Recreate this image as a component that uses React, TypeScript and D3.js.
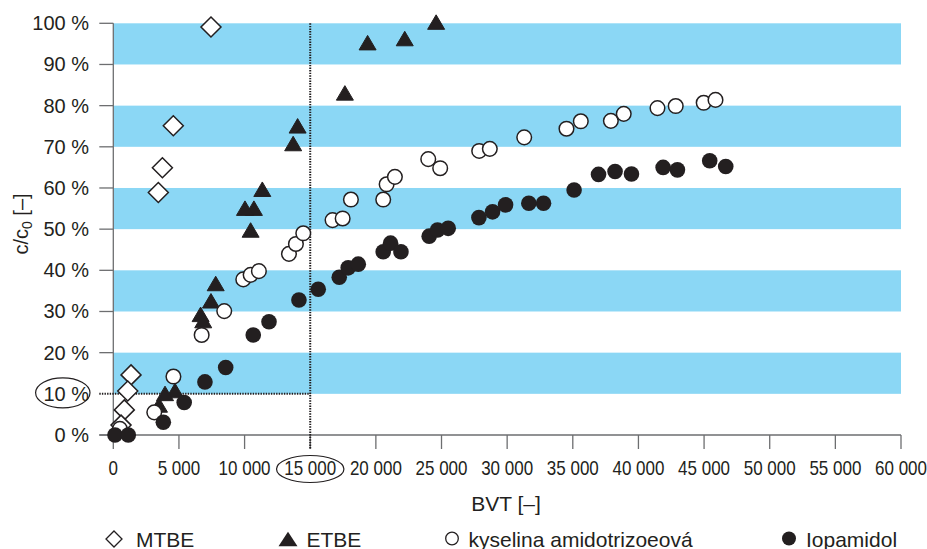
import React from "react";
import * as d3 from "d3";

const xTicks = [0, 5000, 10000, 15000, 20000, 25000, 30000, 35000, 40000, 45000, 50000, 55000, 60000];
const yTicks = [0, 10, 20, 30, 40, 50, 60, 70, 80, 90, 100];
const bands: [number, number][] = [[10, 20], [30, 40], [50, 60], [70, 80], [90, 100]];

const mtbe: [number, number][] = [
  [7440, 99.1], [4570, 75.1], [3740, 64.9], [3430, 58.9], [1350, 14.6], [1100, 10.7], [840, 6.1], [590, 2.4],
];
const etbe: [number, number][] = [
  [24590, 100.3], [22200, 96.3], [19370, 95.3], [17640, 83.1], [14040, 75.1], [13700, 70.8], [11350, 59.7],
  [10710, 55.1], [10030, 55.1], [10460, 49.8], [7800, 36.8], [7440, 32.6], [6650, 29.3], [6850, 27.8],
  [4700, 10.8], [3940, 10.1], [3480, 7.3],
];
const kyselina: [number, number][] = [
  [500, 1.5], [3120, 5.5], [4580, 14.2], [6730, 24.3], [8450, 30.1], [9900, 37.8], [10460, 38.9], [11090, 39.8],
  [13380, 44.0], [13910, 46.4], [14470, 49.0], [16700, 52.2], [17470, 52.6], [18100, 57.2], [20560, 57.2],
  [20820, 60.9], [21450, 62.7], [23990, 67.0], [24900, 64.8], [27870, 69.0], [28680, 69.5], [31300, 72.3],
  [34520, 74.4], [35610, 76.2], [37900, 76.3], [38880, 78.0], [41450, 79.4], [42840, 79.9], [44970, 80.7],
  [45870, 81.4],
];
const iopamidol: [number, number][] = [
  [130, 0], [1140, 0], [3810, 3.1], [5400, 7.9], [6980, 12.9], [8560, 16.4], [10660, 24.3], [11860, 27.5],
  [14140, 32.8], [15610, 35.4], [17210, 38.3], [17890, 40.6], [18660, 41.5], [20560, 44.5], [21120, 46.6],
  [21910, 44.5], [24060, 48.3], [24700, 49.8], [25510, 50.2], [27850, 52.8], [28890, 54.2], [29880, 55.9],
  [31650, 56.3], [32770, 56.3], [35100, 59.5], [36960, 63.3], [38220, 64.0], [39470, 63.4], [41880, 65.0],
  [42970, 64.4], [45430, 66.6], [46650, 65.2],
];
const legendLabels = ["MTBE", "ETBE", "kyselina amidotrizoeová", "Iopamidol"];
const markedX = 15000;
const markedY = 10;

const INK = "#231f20";
const BLUE = "#8bd7f5";
const FONT = "'Liberation Sans', Arial, Helvetica, sans-serif";

const fmtX = (v: number) => (v === 0 ? "0" : d3.format(",")(v).replace(/,/g, " "));

const diamond = (s: number) => `M0,${-s}L${s},0L0,${s}L${-s},0Z`;
const triangle = (w: number, h: number) => `M0,${-h / 2}L${w / 2},${h / 2}L${-w / 2},${h / 2}Z`;

export default function App() {
  const x = d3.scaleLinear().domain([0, 60000]).range([113.3, 901]);
  const y = d3.scaleLinear().domain([0, 100]).range([435, 23.3]);
  const x0 = x(0);
  const x1 = x(60000);

  return (
    <svg
      width={927}
      height={549}
      style={{ position: "absolute", left: 0, top: 0, background: "#fff" }}
      fontFamily={FONT}
    >
      {/* bands */}
      {bands.map(([a, b], i) => (
        <rect key={i} x={x0} y={y(b)} width={x1 - x0} height={y(a) - y(b)} fill={BLUE} />
      ))}

      {/* y axis */}
      <line x1={x0} x2={x0} y1={y(100)} y2={y(0)} stroke="#6d6e70" strokeWidth={1.3} />
      {yTicks.map((t) => (
        <g key={t}>
          {t !== markedY && <line x1={x0 - 14} x2={x0} y1={y(t)} y2={y(t)} stroke="#6d6e70" strokeWidth={1.3} />}
          <text x={89} y={y(t) + 7} textAnchor="end" fontSize={20} fill={INK}>
            {t} %
          </text>
        </g>
      ))}

      {/* x axis */}
      <line x1={x0 - 14} x2={x1} y1={y(0)} y2={y(0)} stroke="#6d6e70" strokeWidth={1.3} />
      {xTicks.map((t) => (
        <g key={t}>
          <line x1={x(t)} x2={x(t)} y1={y(0)} y2={y(0) + 14} stroke="#6d6e70" strokeWidth={1.3} />
          <text
            transform={`translate(${x(t)},475) scale(0.85,1)`}
            textAnchor="middle"
            fontSize={20}
            fill={INK}
          >
            {fmtX(t)}
          </text>
        </g>
      ))}

      {/* dotted guides */}
      <line
        x1={x(markedX)}
        x2={x(markedX)}
        y1={y(100)}
        y2={y(0) + 14}
        stroke={INK}
        strokeWidth={2}
        strokeDasharray="1.4,1.2"
      />
      <line
        x1={x0 - 14}
        x2={x(markedX)}
        y1={y(markedY)}
        y2={y(markedY)}
        stroke={INK}
        strokeWidth={2}
        strokeDasharray="1.4,1.2"
      />

      {/* ellipses */}
      <ellipse cx={62.8} cy={y(markedY) - 1} rx={27.2} ry={15} fill="none" stroke={INK} strokeWidth={1.2} />
      <ellipse cx={x(markedX)} cy={469} rx={33.7} ry={13.5} fill="none" stroke={INK} strokeWidth={1.2} />

      {/* series */}
      {mtbe.map(([a, b], i) => (
        <path key={"m" + i} d={diamond(10)} transform={`translate(${x(a)},${y(b)})`} fill="#fff" stroke={INK} strokeWidth={1.5} />
      ))}
      {etbe.map(([a, b], i) => (
        <path key={"e" + i} d={triangle(17, 14.5)} transform={`translate(${x(a)},${y(b)})`} fill={INK} stroke={INK} strokeWidth={1} />
      ))}
      {kyselina.map(([a, b], i) => (
        <circle key={"k" + i} cx={x(a)} cy={y(b)} r={7.3} fill="#fff" stroke={INK} strokeWidth={1.5} />
      ))}
      {iopamidol.map(([a, b], i) => (
        <circle key={"i" + i} cx={x(a)} cy={y(b)} r={7.8} fill={INK} />
      ))}

      {/* axis titles */}
      <text x={506} y={510.5} textAnchor="middle" fontSize={21} fill={INK}>
        BVT [–]
      </text>
      <text transform="translate(28,224) rotate(-90)" textAnchor="middle" fontSize={20} fill={INK}>
        c/c<tspan fontSize={14} dy={4}>0</tspan>
        <tspan dy={-4}> [–]</tspan>
      </text>

      {/* legend */}
      <path d={diamond(8)} transform="translate(114,539)" fill="#fff" stroke={INK} strokeWidth={1.3} />
      <text x={136} y={546.5} fontSize={21} fill={INK}>{legendLabels[0]}</text>
      <path d={triangle(19, 14.5)} transform="translate(288,539)" fill={INK} />
      <text x={306.5} y={546.5} fontSize={21} fill={INK}>{legendLabels[1]}</text>
      <circle cx={452} cy={538.5} r={6.3} fill="#fff" stroke={INK} strokeWidth={1.3} />
      <text x={468.5} y={546.5} fontSize={21} fill={INK}>{legendLabels[2]}</text>
      <circle cx={789} cy={538.5} r={7} fill={INK} />
      <text x={806} y={546.5} fontSize={21} fill={INK}>{legendLabels[3]}</text>
    </svg>
  );
}
